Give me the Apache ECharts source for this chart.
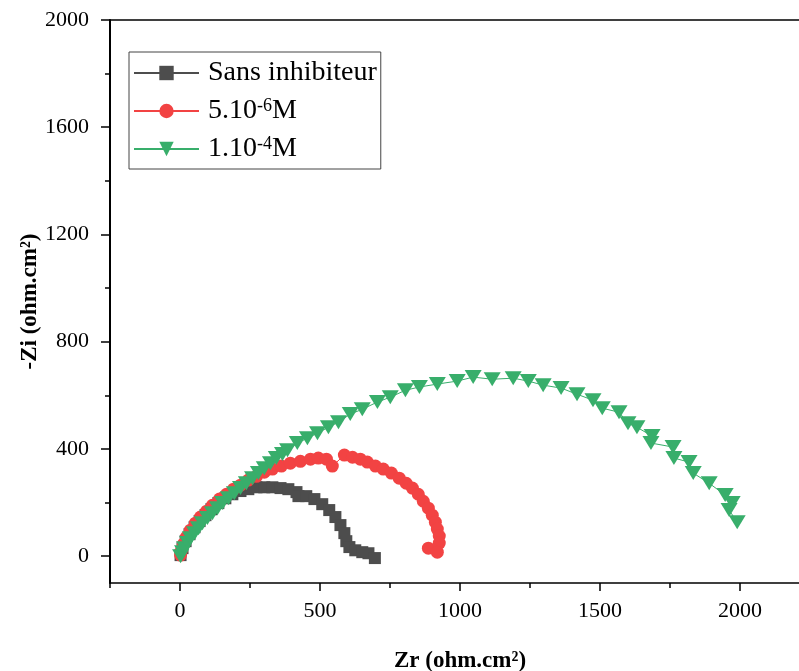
<!DOCTYPE html>
<html>
<head>
<meta charset="utf-8">
<script src="https://cdn.jsdelivr.net/npm/echarts@6/dist/echarts.min.js"></script>
<style>
  html, body { margin: 0; padding: 0; background: #fff; }
  #chart { width: 799px; height: 671px; }
</style>
</head>
<body>
<div id="chart"></div>
<script>
// Nyquist impedance data: [Zr, -Zi] in ohm.cm²
const seriesNames = ['Sans inhibiteur', '5.10-6M', '1.10-4M'];

const sansInhibiteur = [
  [2, 4], [9, 30], [20, 56], [34, 82], [52, 108], [70, 131], [91, 153], [112, 175],
  [137, 198], [162, 216], [187, 231], [216, 243], [244, 250], [273, 257], [301, 257],
  [330, 257], [359, 254], [387, 250], [416, 239], [423, 224], [451, 224], [480, 213],
  [508, 194], [533, 172], [555, 146], [573, 116], [587, 86], [594, 56], [605, 34],
  [626, 22], [651, 15], [673, 11], [696, -7]
];

const conc5e6 = [
  [2, 4], [5, 22], [12, 45], [23, 71], [37, 97], [55, 123], [73, 146], [95, 168],
  [116, 190], [141, 213], [166, 231], [191, 250], [216, 265], [244, 284], [273, 298],
  [301, 313], [330, 325], [362, 336], [394, 347], [430, 354], [466, 362], [494, 366],
  [523, 362], [544, 336], [587, 377], [616, 369], [644, 362], [669, 351], [698, 336],
  [726, 325], [755, 310], [783, 291], [808, 272], [830, 254], [851, 231], [869, 205],
  [887, 179], [901, 153], [912, 127], [919, 101], [926, 75], [926, 49], [887, 30], [919, 15]
];

const conc1e4 = [
  [2, 0], [9, 15], [16, 30], [27, 49], [37, 67], [52, 86], [66, 104], [80, 123],
  [98, 142], [116, 160], [134, 179], [152, 198], [173, 216], [194, 235], [216, 254],
  [237, 272], [259, 291], [280, 310], [301, 328], [323, 347], [344, 366], [366, 381],
  [384, 395], [419, 422], [455, 440], [491, 459], [530, 481], [566, 500], [608, 530],
  [651, 548], [705, 575], [751, 593], [805, 619], [855, 631], [919, 642], [990, 653],
  [1047, 668], [1115, 660], [1190, 664], [1244, 653], [1297, 638], [1361, 627],
  [1418, 604], [1475, 582], [1508, 552], [1568, 537], [1600, 496], [1632, 481],
  [1686, 448], [1682, 422], [1761, 407], [1764, 366], [1818, 351], [1833, 310],
  [1890, 272], [1947, 228], [1972, 198], [1961, 172], [1990, 127]
];

// Tick values
const xMajorTicks = [0, 500, 1000, 1500, 2000];
const xMinorTicks = [-250, 250, 750, 1250, 1750, 2250];
const yMajorTicks = [0, 400, 800, 1200, 1600, 2000];
const yMinorTicks = [200, 600, 1000, 1400, 1800];

const SERIF = '"Liberation Serif", "Times New Roman", serif';
const X_RANGE = { min: -250, max: 2250 };
const Y_RANGE = { min: -100, max: 2000 };

const downTriangle = 'path://M0,0L20,0L10,17.32Z';
const plainNumber = (v) => String(v);

const chart = echarts.init(document.getElementById('chart'), null, { renderer: 'canvas' });

function legendLabel(name) {
  if (name === '5.10-6M') return '{t|5.10}{s|-6}{t|M}';
  if (name === '1.10-4M') return '{t|1.10}{s|-4}{t|M}';
  return '{t|' + name + '}';
}

const axisLineStyle = { color: '#000', width: 1.5 };

chart.setOption({
  animation: false,
  backgroundColor: '#fff',
  grid: { left: 110, top: 20, right: -11, bottom: 88, outerBoundsMode: 'none', containLabel: false },
  legend: {
    orient: 'vertical',
    left: 129,
    top: 52,
    data: seriesNames,
    itemWidth: 65,
    itemHeight: 18,
    itemGap: 10,
    padding: [7, 4, 6, 4],
    borderColor: '#444',
    borderWidth: 1,
    formatter: legendLabel,
    textStyle: {
      fontFamily: SERIF,
      color: '#000',
      padding: [0, 0, 0, 4],
      rich: {
        t: { fontFamily: SERIF, fontSize: 28, color: '#000', lineHeight: 28 },
        s: { fontFamily: SERIF, fontSize: 18, color: '#000', lineHeight: 16, verticalAlign: 'top' }
      }
    }
  },
  xAxis: [
    {
      type: 'value', ...X_RANGE, position: 'bottom',
      name: 'Zr (ohm.cm²)', nameLocation: 'middle', nameGap: 67, nameMoveOverlap: false,
      nameTextStyle: { fontFamily: SERIF, fontWeight: 'bold', fontSize: 23, color: '#000' },
      axisLine: { show: true, onZero: false, lineStyle: axisLineStyle },
      axisTick: { show: true, length: 8, customValues: xMajorTicks, lineStyle: { color: '#000', width: 1.5 } },
      axisLabel: { customValues: xMajorTicks, formatter: plainNumber, fontFamily: SERIF, fontSize: 22, color: '#000', margin: 17 },
      splitLine: { show: false }
    },
    {
      type: 'value', ...X_RANGE, position: 'bottom',
      axisLine: { show: false, onZero: false },
      axisTick: { show: true, length: 5, customValues: xMinorTicks, lineStyle: { color: '#000', width: 1.5 } },
      axisLabel: { show: false },
      splitLine: { show: false }
    },
    {
      type: 'value', ...X_RANGE, position: 'top',
      axisLine: { show: true, onZero: false, lineStyle: axisLineStyle },
      axisTick: { show: false },
      axisLabel: { show: false },
      splitLine: { show: false }
    }
  ],
  yAxis: [
    {
      type: 'value', ...Y_RANGE, position: 'left',
      name: '-Zi (ohm.cm²)', nameLocation: 'middle', nameGap: 68, nameMoveOverlap: false,
      nameTextStyle: { fontFamily: SERIF, fontWeight: 'bold', fontSize: 23, color: '#000' },
      axisLine: { show: true, onZero: false, lineStyle: { color: '#000', width: 2 } },
      axisTick: { show: true, length: 9, customValues: yMajorTicks, lineStyle: { color: '#000', width: 1.5 } },
      axisLabel: { customValues: yMajorTicks, formatter: plainNumber, fontFamily: SERIF, fontSize: 22, color: '#000', margin: 21 },
      splitLine: { show: false }
    },
    {
      type: 'value', ...Y_RANGE, position: 'left',
      axisLine: { show: false, onZero: false },
      axisTick: { show: true, length: 5, customValues: yMinorTicks, lineStyle: { color: '#000', width: 1.5 } },
      axisLabel: { show: false },
      splitLine: { show: false }
    }
  ],
  series: [
    {
      name: seriesNames[0], type: 'line', data: sansInhibiteur,
      xAxisIndex: 0, yAxisIndex: 0,
      symbol: 'rect', symbolSize: 12,
      itemStyle: { color: '#4d4d4d' },
      lineStyle: { color: '#4d4d4d', width: 1 },
      z: 3
    },
    {
      name: seriesNames[1], type: 'line', data: conc5e6,
      xAxisIndex: 0, yAxisIndex: 0,
      symbol: 'circle', symbolSize: 13,
      itemStyle: { color: '#f24343' },
      lineStyle: { color: '#f24343', width: 1 },
      z: 4
    },
    {
      name: seriesNames[2], type: 'line', data: conc1e4,
      xAxisIndex: 0, yAxisIndex: 0,
      symbol: downTriangle, symbolSize: [17, 14],
      itemStyle: { color: '#38ae6b' },
      lineStyle: { color: '#38ae6b', width: 1 },
      z: 5
    }
  ]
});
</script>
</body>
</html>
